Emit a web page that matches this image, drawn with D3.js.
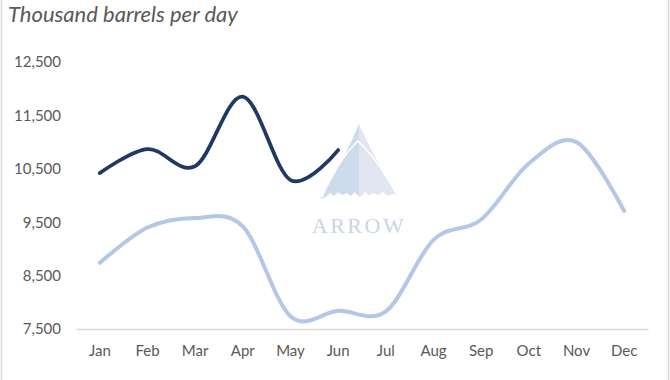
<!DOCTYPE html>
<html>
<head>
<meta charset="utf-8">
<script src="https://cdn.jsdelivr.net/npm/d3@7"></script>
<style>
  html, body { margin: 0; padding: 0; background: #ffffff; }
  svg { display: block; }
</style>
</head>
<body>
<svg id="chart" width="670" height="380"></svg>
<script>
// ---- data ----
const months = ["Jan","Feb","Mar","Apr","May","Jun","Jul","Aug","Sep","Oct","Nov","Dec"];
const currentYear = [10420, 10870, 10550, 11850, 10290, 10850];
const priorYear = [8740, 9400, 9580, 9420, 7740, 7840, 7830, 9170, 9550, 10600, 11000, 9710];
const yTicks = [7500, 8500, 9500, 10500, 11500, 12500];
const yDomain = [7500, 12500];
const titleText = "Thousand barrels per day";

// ---- layout ----
const svg = d3.select("#chart");
const W = 670, H = 380;
const plot = { left: 76, right: 648, top: 62, bottom: 329 };
const textColor = "#595959";

// frame lines
svg.append("line").attr("x1", 1.5).attr("x2", 1.5).attr("y1", 0).attr("y2", H)
  .attr("stroke", "#d9d9d9").attr("stroke-width", 1.5);
svg.append("line").attr("x1", 668.5).attr("x2", 668.5).attr("y1", 0).attr("y2", H)
  .attr("stroke", "#d9d9d9").attr("stroke-width", 1.5);

const x = d3.scaleBand().domain(months).range([plot.left, plot.right]).padding(0);
const y = d3.scaleLinear().domain(yDomain).range([plot.bottom, plot.top]);
const cx = m => x(m) + x.bandwidth() / 2;

// title
svg.append("text")
  .attr("x", 8).attr("y", 22)
  .attr("font-family", "Lato, 'Open Sans', sans-serif")
  .attr("font-style", "italic")
  .attr("font-size", 22)
  .attr("fill", textColor)
  .text(titleText);

// watermark
const wm = svg.append("g").attr("class", "watermark");
wm.append("path")
  .attr("d", "M359,124 Q345,158 320,199 L326,197 L330,193 L334,196 L338,192 L342,195 L347,193 L351,196 L355,192 L359,197 Z")
  .attr("fill", "#cddbea");
wm.append("path")
  .attr("d", "M359,124 Q374,158 398,196 L393,194 L388,196 L383,192 L378,195 L373,193 L369,196 L365,192 L362,196 L359,197 Z")
  .attr("fill", "#e2e6f2");
wm.append("path")
  .attr("d", "M322,197 Q338,160 358,141 Q378,160 397,195")
  .attr("fill", "none").attr("stroke", "#ffffff").attr("stroke-width", 1.6);
wm.append("text")
  .attr("x", 359).attr("y", 233)
  .attr("text-anchor", "middle")
  .attr("font-family", "'Liberation Serif', 'DejaVu Serif', serif")
  .attr("font-size", 22)
  .attr("letter-spacing", 2.5)
  .attr("fill", "#c9d4e6")
  .text("ARROW");

// y axis
const yAxis = d3.axisLeft(y).tickValues(yTicks).tickFormat(d3.format(",")).tickSize(0).tickPadding(15);
const gy = svg.append("g").attr("transform", `translate(${plot.left},0)`).call(yAxis);
gy.select(".domain").remove();
gy.selectAll("text").attr("font-family", "Lato, 'Open Sans', sans-serif").attr("font-size", 15).attr("fill", textColor);

// x axis
const xAxis = d3.axisBottom(x).tickSize(0).tickPadding(16);
const gx = svg.append("g").attr("transform", `translate(0,${plot.bottom})`).call(xAxis);
gx.select(".domain").attr("stroke", "#d9d9d9").attr("stroke-width", 1.5);
gx.selectAll("text").attr("font-family", "Lato, 'Open Sans', sans-serif").attr("font-size", 15).attr("fill", textColor);

// lines
const line = d3.line()
  .x((d, i) => cx(months[i]))
  .y(d => y(d))
  .curve(d3.curveCardinal.tension(0));

svg.append("path").datum(priorYear)
  .attr("d", line)
  .attr("fill", "none").attr("stroke", "#b4c7e7").attr("stroke-width", 4)
  .attr("stroke-linecap", "round").attr("stroke-linejoin", "round");

svg.append("path").datum(currentYear)
  .attr("d", line)
  .attr("fill", "none").attr("stroke", "#1f3864").attr("stroke-width", 3.75)
  .attr("stroke-linecap", "round").attr("stroke-linejoin", "round");
</script>
</body>
</html>
